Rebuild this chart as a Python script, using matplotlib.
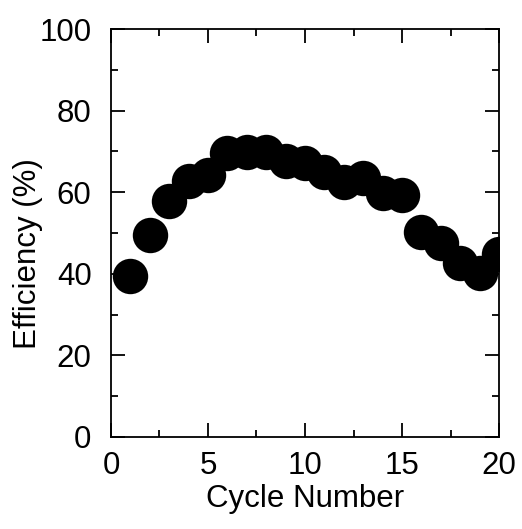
import matplotlib
matplotlib.use("Agg")
import matplotlib.pyplot as plt
from matplotlib.ticker import MultipleLocator

plt.rcParams['font.family'] = ['Liberation Sans', 'DejaVu Sans']

# efficiency per cycle
cycles = [1, 2, 3, 4, 5, 6, 7, 8, 9, 10, 11, 12, 13, 14, 15, 16, 17, 18, 19, 20]
efficiency = [39.5, 49.5, 57.8, 62.7, 64.2, 69.5, 69.9, 69.8, 67.7, 67.1,
              65.0, 62.6, 63.4, 59.7, 59.3, 50.2, 47.5, 42.6, 40.3, 44.9]

fig = plt.figure(figsize=(5.22, 5.29), dpi=100)
ax = fig.add_axes([0.2126, 0.174, 0.7434, 0.771])

ax.plot(cycles, efficiency, 'o', color='black', markersize=25.5, markeredgewidth=0)

ax.set_xlim(0, 20)
ax.set_ylim(0, 100)
ax.xaxis.set_major_locator(MultipleLocator(5))
ax.xaxis.set_minor_locator(MultipleLocator(2.5))
ax.yaxis.set_major_locator(MultipleLocator(20))
ax.yaxis.set_minor_locator(MultipleLocator(10))

ax.tick_params(which='both', direction='in', top=True, right=True, width=1.3,
               labelsize=22.5)
ax.tick_params(axis='x', which='both', pad=10)
ax.tick_params(axis='y', which='both', pad=14)
ax.tick_params(which='major', length=10)
ax.tick_params(which='minor', length=5)
for s in ax.spines.values():
    s.set_linewidth(1.3)

ax.set_xlabel('Cycle Number', fontsize=22.5, labelpad=2)
ax.set_ylabel('Efficiency (%)', fontsize=22.5)
# label sits a little below the middle of the axis
ax.yaxis.set_label_coords(-0.175, 0.449)

plt.savefig('out.png', dpi=100)
